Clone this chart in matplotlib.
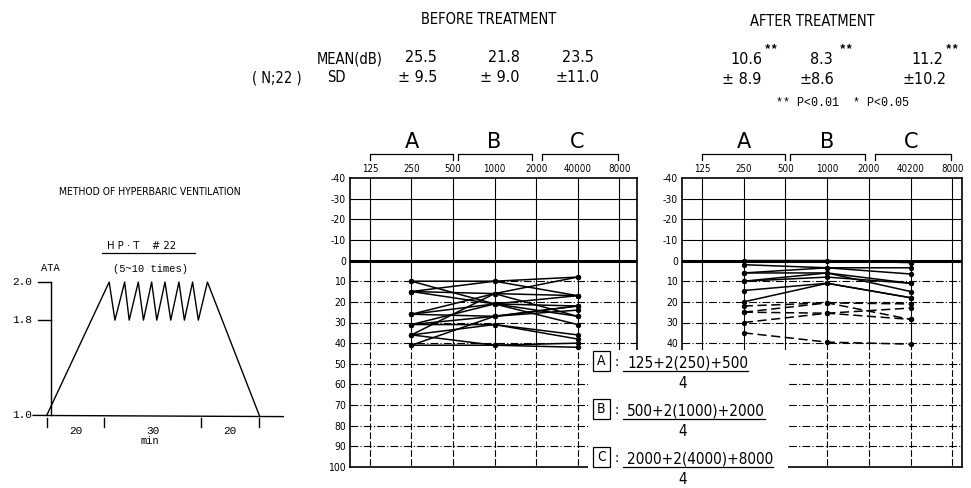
import matplotlib.pyplot as plt
import matplotlib.patches as mpatches
import numpy as np

W, H = 971, 488
COND = dict(family="DejaVu Sans", fontstretch="condensed")
MONO = dict(family="Liberation Mono")

# hyperbaric ventilation profile (minutes, ATA)
profile_min = [0, 20.6, 22.5, 25.7, 27.2, 30.2, 31.9, 34.6, 36.3, 39.0, 40.9,
               43.6, 45.4, 48.1, 50.0, 53.0, 70.1]
profile_ata = [1.0, 2.0, 1.8, 2.0, 1.8, 2.0, 1.8, 2.0, 1.8, 2.0, 1.8,
               2.0, 1.8, 2.0, 1.8, 2.0, 1.0]
ata_ticks = [1.0, 1.8, 2.0]
min_ticks = [0, 19, 51, 70]
min_labels = ["20", "30", "20"]

freq_labels = ["125", "250", "500", "1000", "2000", "40000", "8000"]
freq_labels_after = ["125", "250", "500", "1000", "2000", "40200", "8000"]
db_ticks = list(range(-40, 101, 10))
bands = ["A", "B", "C"]
band_index = [1, 3, 5]

# hearing levels (dB) at A, B, C for each patient
before_a = [10, 10, 15, 15, 26, 26, 26, 31, 31, 31, 36, 36, 41, 41, 36, 15]
before_b = [10, 21, 16, 21, 16, 21, 27, 21, 31, 27, 16, 31, 27, 41, 41, 10]
before_c = [8, 27, 17, 22, 8, 31, 24, 17, 36, 22, 27, 38, 22, 42, 40, 17]

after_a = [0, 2, 6, 6, 10, 10, 14.5, 20]
after_b = [0, 3.5, 3.5, 6, 8, 6, 11, 11]
after_c = [1, 3.5, 6.5, 11, 11, 15, 18, 18]
after_dash_a = [22, 25, 25, 30, 35]
after_dash_b = [20.5, 20.5, 25.5, 25.5, 39.5]
after_dash_c = [21, 28.5, 23, 28.5, 40.5]

mean_before = ["25.5", "21.8", "23.5"]
sd_before = ["± 9.5", "± 9.0", "±11.0"]
mean_after = ["10.6", "8.3", "11.2"]
sd_after = ["± 8.9", "±8.6", "±10.2"]

formulas = ["125+2(250)+500", "500+2(1000)+2000", "2000+2(4000)+8000"]


def fpos(x, y):
    return x / W, 1 - y / H


def ata_forward(a):
    a = np.asarray(a, dtype=float)
    return np.where(a <= 1.8, (a - 1.0) * 118.75, 95 + (a - 1.8) * 190)


def ata_inverse(v):
    v = np.asarray(v, dtype=float)
    return np.where(v <= 95, 1.0 + v / 118.75, 1.8 + (v - 95) / 190)


def draw_profile(fig):
    x0, x1 = -15, 80
    px_per_min = 212.3 / 70
    left = 46.7 + x0 * px_per_min
    right = 46.7 + x1 * px_per_min
    bottom, top = 432.8, 253.5
    ax = fig.add_axes([left / W, 1 - bottom / H, (right - left) / W, (bottom - top) / H])
    ax.set_yscale("function", functions=(ata_forward, ata_inverse))
    ax.set_xlim(x0, x1)
    ax.set_ylim(0.854, 2.15)
    ax.axis("off")

    ax.plot(profile_min, profile_ata, color="black", lw=1.0)
    ax.plot([1.3, 1.3], [1.0, 2.0], color="black", lw=1.0)
    ax.plot([-4.5, 78], [1.0, 0.99], color="black", lw=1.0)
    for a in ata_ticks:
        if a > 1.0:
            ax.plot([-2.9, 1.3], [a, a], color="black", lw=1.0)
        ax.text(-4.8, a, f"{a:.1f}", ha="right", va="center", fontsize=8, **MONO)
    for t in min_ticks:
        ax.plot([t, t], [0.98, 0.905], color="black", lw=1.0)
    for lo, hi, lab in zip(min_ticks[:-1], min_ticks[1:], min_labels):
        ax.text((lo + hi) / 2, 0.865, lab, ha="center", va="center", fontsize=8, **MONO)
    ax.text(1.1, 2.074, "ATA", ha="center", va="center", fontsize=7.5, **MONO)

    fig.text(*fpos(150, 192), "METHOD OF HYPERBARIC VENTILATION", ha="center",
             va="center", fontsize=7.5, **COND)
    fig.text(*fpos(142, 246), "H P · T    # 22", ha="center", va="center",
             fontsize=8, **COND)
    fig.add_artist(plt.Line2D([102 / W, 195 / W], [1 - 253 / H, 1 - 253 / H],
                              color="black", lw=0.9))
    fig.text(*fpos(150, 269), "(5~10 times)", ha="center", va="center",
             fontsize=7.5, **MONO)
    fig.text(*fpos(150, 441), "min", ha="center", va="center", fontsize=7.5, **MONO)


def draw_audiogram(fig, left, right, xmax, labels, max_label):
    top, bottom = 178, 467
    ax = fig.add_axes([left / W, 1 - bottom / H, (right - left) / W, (bottom - top) / H])
    ax.set_xlim(-0.48, xmax)
    ax.set_ylim(100, -40)
    for s in ax.spines.values():
        s.set_linewidth(1.2)

    for db in db_ticks[1:-1]:
        lw = 2.2 if db == 0 else 0.8
        ax.axhline(db, color="black", lw=lw, ls="-" if db <= 0 else (0, (7, 2, 1, 2)))
    for i in range(len(labels)):
        ax.plot([i, i], [-40, 40], color="black", lw=0.8)
        ax.plot([i, i], [40, 100], color="black", lw=0.8, ls=(0, (6, 2)))

    ax.set_xticks(range(len(labels)))
    ax.set_xticklabels(labels, fontsize=7, **COND)
    ax.xaxis.tick_top()
    ax.set_yticks(db_ticks)
    ax.set_yticklabels([str(d) if d <= max_label else "" for d in db_ticks],
                       fontsize=7.5, **COND)
    ax.tick_params(length=0, pad=3)

    spans = [(0, 2.0), (2.12, 3.9), (4.15, 5.97)]
    for (a, b), name, idx in zip(spans, bands, band_index):
        ax.plot([a, a, b, b], [-48.8, -51.6, -51.6, -48.8], color="black", lw=0.9,
                clip_on=False)
        ax.text(idx, -57.5, name, ha="center", va="center", fontsize=15,
                family="DejaVu Sans")
    return ax


def plot_lines(ax, a_vals, b_vals, c_vals, ls):
    for a, b, c in zip(a_vals, b_vals, c_vals):
        ax.plot(band_index, [a, b, c], color="black", lw=1.1, ls=ls,
                marker="o", ms=2.8, zorder=3)


def main():
    fig = plt.figure(figsize=(W / 100, H / 100), dpi=100)

    draw_profile(fig)

    ax_before = draw_audiogram(fig, 350, 637, 6.43, freq_labels, 100)
    plot_lines(ax_before, before_a, before_b, before_c, "-")

    # lower left part of this chart sits under the formula panel
    ax_after = draw_audiogram(fig, 682, 962, 6.23, freq_labels_after, 40)
    plot_lines(ax_after, after_a, after_b, after_c, "-")
    plot_lines(ax_after, after_dash_a, after_dash_b, after_dash_c, (0, (6, 3)))

    # header
    fig.text(*fpos(489, 19), "BEFORE TREATMENT", ha="center", va="center",
             fontsize=10.5, **COND)
    fig.text(*fpos(812, 22), "AFTER TREATMENT", ha="center", va="center",
             fontsize=10.5, **COND)
    fig.text(*fpos(350, 59), "MEAN(dB)", ha="center", va="center", fontsize=10.5, **COND)
    fig.text(*fpos(277, 78), "( N;22 )", ha="center", va="center", fontsize=10.5, **COND)
    fig.text(*fpos(336, 78), "SD", ha="center", va="center", fontsize=10.5, **COND)
    for x, m in zip([421, 504, 578], mean_before):
        fig.text(*fpos(x, 58), m, ha="center", va="center", fontsize=11.5, **COND)
    for x, s in zip([418, 500, 577], sd_before):
        fig.text(*fpos(x, 78), s, ha="center", va="center", fontsize=11.5, **COND)
    for x, m in zip([746, 821, 927], mean_after):
        fig.text(*fpos(x, 59), m, ha="center", va="center", fontsize=11.5, **COND)
        fig.text(*fpos(x + 25, 49), "**", ha="center", va="center", fontsize=9,
                 weight="bold", **MONO)
    for x, s in zip([742, 817, 924], sd_after):
        fig.text(*fpos(x, 79), s, ha="center", va="center", fontsize=11.5, **COND)
    fig.text(*fpos(842, 103), "** P<0.01  * P<0.05", ha="center", va="center",
             fontsize=8.5, **MONO)

    # formula panel over the lower charts
    fig.add_artist(mpatches.Rectangle((588 / W, 0), 200 / W, 1 - 350 / H,
                                      transform=fig.transFigure, facecolor="white",
                                      edgecolor="none", zorder=5))
    for k, (name, text) in enumerate(zip(bands, formulas)):
        yc = 361 + k * 48
        fig.add_artist(mpatches.Rectangle((593 / W, 1 - (yc + 10) / H), 17 / W, 20 / H,
                                          transform=fig.transFigure, facecolor="white",
                                          edgecolor="black", lw=0.9, zorder=6))
        fig.text(*fpos(601.5, yc), name, ha="center", va="center", fontsize=10,
                 zorder=7, **COND)
        fig.text(*fpos(617, yc + 1), ":", ha="center", va="center", fontsize=10,
                 zorder=7, **COND)
        fig.text(*fpos(627, yc + 7), text, ha="left", va="baseline",
                 fontsize=11, zorder=7, **COND)
        fig.add_artist(plt.Line2D([623 / W, (632 + 8.3 * len(text)) / W],
                                  [1 - (yc + 10) / H] * 2, color="black", lw=0.9,
                                  zorder=7))
        fig.text(*fpos(683, yc + 27), "4", ha="center", va="baseline", fontsize=11,
                 zorder=7, **COND)

    fig.savefig("out.png", dpi=100, facecolor="white")


if __name__ == "__main__":
    main()
